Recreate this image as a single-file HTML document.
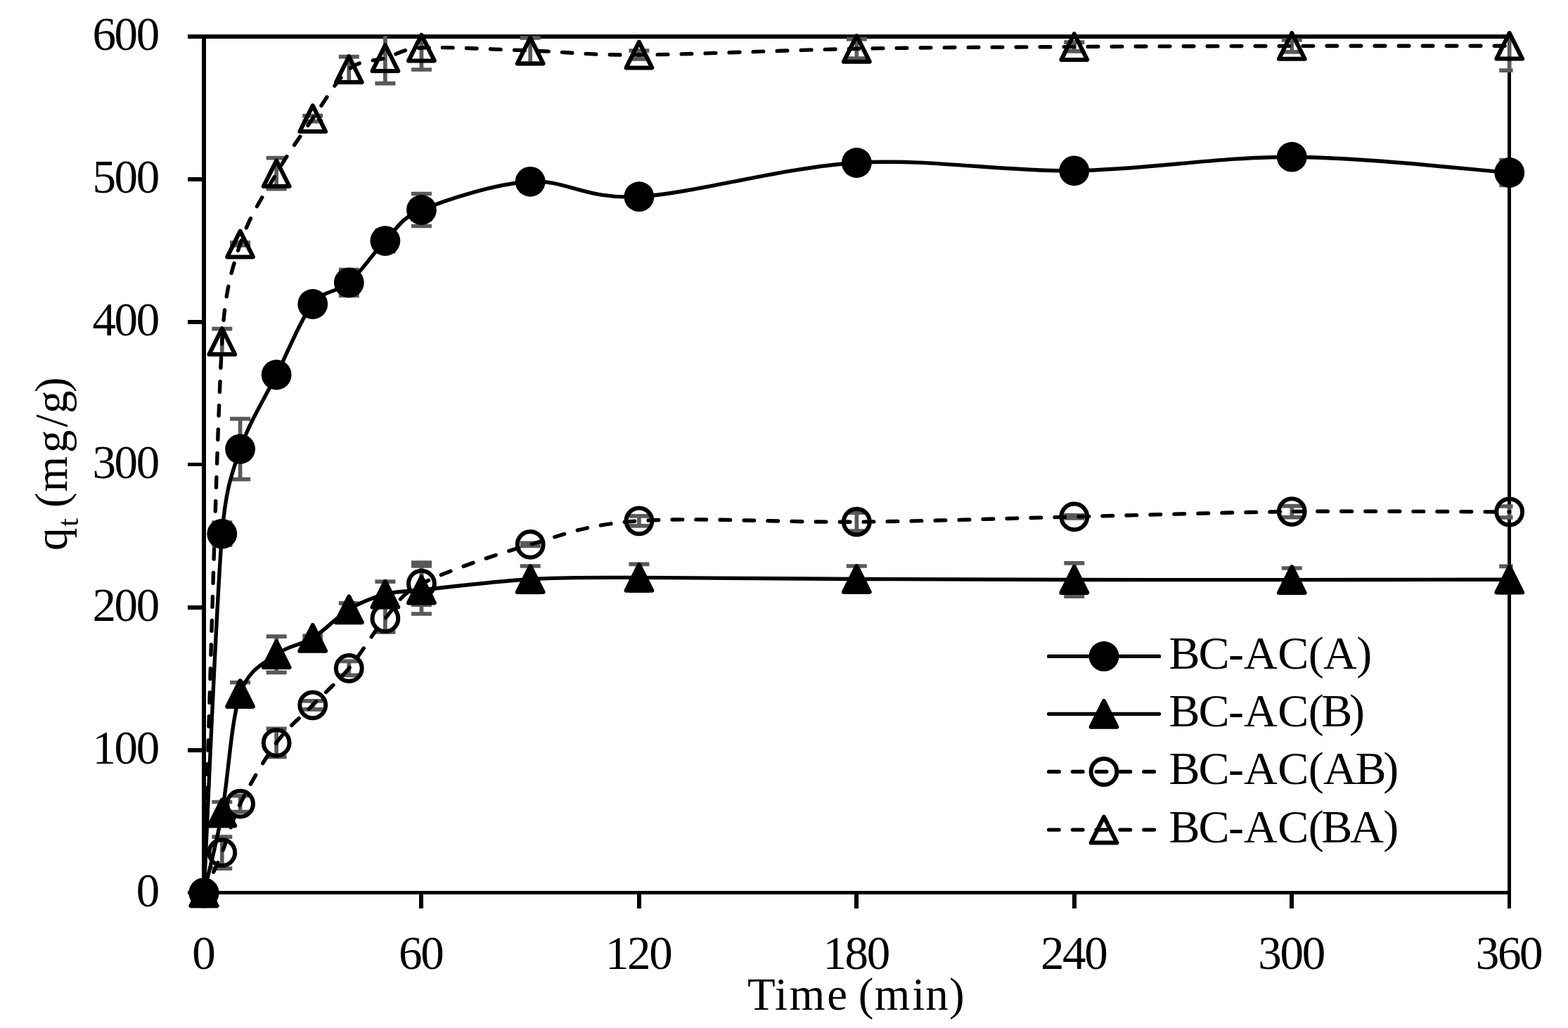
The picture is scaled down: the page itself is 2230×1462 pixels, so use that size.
<!DOCTYPE html>
<html lang="en"><head><meta charset="utf-8"><title>Adsorption kinetics</title>
<style>html,body{margin:0;padding:0;background:#fff}svg{display:block}text{font-family:"Liberation Serif",serif;fill:#000}</style></head><body>
<svg width="2230" height="1462" viewBox="0 0 2230 1462">
<rect width="2230" height="1462" fill="#fff"/>
<defs><clipPath id="eb"><rect x="280" y="51" width="1871.6" height="1300"/></clipPath></defs>
<g stroke="#000" fill="none" stroke-width="6">
<path d="M267 52H2146.5"/>
<path d="M290 49V1272"/>
<path d="M267 1269.5H2146.5" stroke-width="5"/>
<path d="M267 1067H290"/>
<path d="M267 864H290"/>
<path d="M267 660.5H290" stroke-width="5"/>
<path d="M267 458H290"/>
<path d="M267 255H290"/>
<path d="M599 1267V1292"/>
<path d="M909 1267V1292"/>
<path d="M1218 1267V1292"/>
<path d="M1528 1267V1292"/>
<path d="M1837 1267V1292"/>
<path d="M2146.5 49V1292" stroke-width="5"/>
</g>
<g clip-path="url(#eb)" stroke="#595959" stroke-width="5.70" fill="none">
<path d="M315.79 743.20V775.20M301.29 743.20H330.29M301.29 775.20H330.29"/>
<path d="M341.57 595.60V681.60M327.07 595.60H356.07M327.07 681.60H356.07"/>
<path d="M393.15 523.00V543.00M378.65 523.00H407.65M378.65 543.00H407.65"/>
<path d="M444.73 422.50V442.50M430.23 422.50H459.23M430.23 442.50H459.23"/>
<path d="M496.30 383.50V420.50M481.80 383.50H510.80M481.80 420.50H510.80"/>
<path d="M547.88 327.60V357.60M533.38 327.60H562.38M533.38 357.60H562.38"/>
<path d="M599.45 275.50V321.50M584.95 275.50H613.95M584.95 321.50H613.95"/>
<path d="M754.17 248.30V268.30M739.67 248.30H768.67M739.67 268.30H768.67"/>
<path d="M908.90 269.70V289.70M894.40 269.70H923.40M894.40 289.70H923.40"/>
<path d="M1218.35 221.50V241.50M1203.85 221.50H1232.85M1203.85 241.50H1232.85"/>
<path d="M1527.80 232.80V252.80M1513.30 232.80H1542.30M1513.30 252.80H1542.30"/>
<path d="M1837.25 213.20V233.20M1822.75 213.20H1851.75M1822.75 233.20H1851.75"/>
<path d="M2146.70 227.50V263.50M2132.20 227.50H2161.20M2132.20 263.50H2161.20"/>
<path d="M315.79 1140.50V1171.50M301.29 1140.50H330.29M301.29 1171.50H330.29"/>
<path d="M341.57 970.50V1002.50M327.07 970.50H356.07M327.07 1002.50H356.07"/>
<path d="M393.15 905.10V956.30M378.65 905.10H407.65M378.65 956.30H407.65"/>
<path d="M444.73 904.40V910.40M430.23 904.40H459.23M430.23 910.40H459.23"/>
<path d="M496.30 857.80V875.80M481.80 857.80H510.80M481.80 875.80H510.80"/>
<path d="M547.88 827.20V863.20M533.38 827.20H562.38M533.38 863.20H562.38"/>
<path d="M599.45 805.00V873.00M584.95 805.00H613.95M584.95 873.00H613.95"/>
<path d="M754.17 805.00V842.40M739.67 805.00H768.67M739.67 842.40H768.67"/>
<path d="M908.90 802.40V840.40M894.40 802.40H923.40M894.40 840.40H923.40"/>
<path d="M1218.35 805.00V842.00M1203.85 805.00H1232.85M1203.85 842.00H1232.85"/>
<path d="M1527.80 800.80V848.20M1513.30 800.80H1542.30M1513.30 848.20H1542.30"/>
<path d="M1837.25 808.00V841.20M1822.75 808.00H1851.75M1822.75 841.20H1851.75"/>
<path d="M2146.70 805.40V843.00M2132.20 805.40H2161.20M2132.20 843.00H2161.20"/>
<path d="M315.79 1190.10V1235.10M301.29 1190.10H330.29M301.29 1235.10H330.29"/>
<path d="M341.57 1131.70V1154.70M327.07 1131.70H356.07M327.07 1154.70H356.07"/>
<path d="M393.15 1036.40V1076.40M378.65 1036.40H407.65M378.65 1076.40H407.65"/>
<path d="M444.73 996.80V1008.80M430.23 996.80H459.23M430.23 1008.80H459.23"/>
<path d="M496.30 940.40V960.40M481.80 940.40H510.80M481.80 960.40H510.80"/>
<path d="M547.88 860.00V899.00M533.38 860.00H562.38M533.38 899.00H562.38"/>
<path d="M599.45 800.20V860.20M584.95 800.20H613.95M584.95 860.20H613.95"/>
<path d="M754.17 772.40V776.40M739.67 772.40H768.67M739.67 776.40H768.67"/>
<path d="M908.90 733.80V747.80M894.40 733.80H923.40M894.40 747.80H923.40"/>
<path d="M1218.35 729.20V755.20M1203.85 729.20H1232.85M1203.85 755.20H1232.85"/>
<path d="M1527.80 732.90V736.90M1513.30 732.90H1542.30M1513.30 736.90H1542.30"/>
<path d="M1837.25 719.60V735.60M1822.75 719.60H1851.75M1822.75 735.60H1851.75"/>
<path d="M2146.70 720.00V736.00M2132.20 720.00H2161.20M2132.20 736.00H2161.20"/>
<path d="M315.79 467.60V503.60M301.29 467.60H330.29M301.29 503.60H330.29"/>
<path d="M341.57 345.00V349.00M327.07 345.00H356.07M327.07 349.00H356.07"/>
<path d="M393.15 224.70V268.70M378.65 224.70H407.65M378.65 268.70H407.65"/>
<path d="M444.73 164.60V172.60M430.23 164.60H459.23M430.23 172.60H459.23"/>
<path d="M496.30 80.60V116.60M481.80 80.60H510.80M481.80 116.60H510.80"/>
<path d="M547.88 46.60V118.60M533.38 46.60H562.38M533.38 118.60H562.38"/>
<path d="M599.45 37.00V99.00M584.95 37.00H613.95M584.95 99.00H613.95"/>
<path d="M754.17 54.00V90.00M739.67 54.00H768.67M739.67 90.00H768.67"/>
<path d="M908.90 72.00V84.00M894.40 72.00H923.40M894.40 84.00H923.40"/>
<path d="M1218.35 55.60V83.00M1203.85 55.60H1232.85M1203.85 83.00H1232.85"/>
<path d="M1527.80 60.10V72.90M1513.30 60.10H1542.30M1513.30 72.90H1542.30"/>
<path d="M1837.25 57.00V73.80M1822.75 57.00H1851.75M1822.75 73.80H1851.75"/>
<path d="M2146.70 30.20V100.20M2132.20 30.20H2161.20M2132.20 100.20H2161.20"/>
</g>
<g>
<path d="M290.00 1269.80C294.30 1184.70 307.19 864.40 315.79 759.20C320.81 697.74 328.68 676.30 341.57 638.60C354.47 600.90 375.96 567.35 393.15 533.00C410.34 498.65 427.53 454.33 444.73 432.50C461.92 410.67 479.11 416.98 496.30 402.00C513.49 387.02 530.68 359.85 547.88 342.60C565.07 325.35 568.04 311.33 599.45 298.50C633.83 284.45 702.60 261.43 754.17 258.30C805.75 255.17 831.54 284.17 908.90 279.70C986.26 275.23 1115.20 237.65 1218.35 231.50C1321.50 225.35 1424.65 244.18 1527.80 242.80C1630.95 241.42 1734.10 222.75 1837.25 223.20C1940.40 223.65 2095.12 241.78 2146.70 245.50" fill="none" stroke="#000" stroke-width="5.40" stroke-linejoin="round"/>
<circle cx="290.00" cy="1269.80" r="21.40"/>
<circle cx="315.79" cy="759.20" r="21.40"/>
<circle cx="341.57" cy="638.60" r="21.40"/>
<circle cx="393.15" cy="533.00" r="21.40"/>
<circle cx="444.73" cy="432.50" r="21.40"/>
<circle cx="496.30" cy="402.00" r="21.40"/>
<circle cx="547.88" cy="342.60" r="21.40"/>
<circle cx="599.45" cy="298.50" r="21.40"/>
<circle cx="754.17" cy="258.30" r="21.40"/>
<circle cx="908.90" cy="279.70" r="21.40"/>
<circle cx="1218.35" cy="231.50" r="21.40"/>
<circle cx="1527.80" cy="242.80" r="21.40"/>
<circle cx="1837.25" cy="223.20" r="21.40"/>
<circle cx="2146.70" cy="245.50" r="21.40"/>
</g>
<g>
<path d="M290.00 1269.80C294.30 1250.83 307.19 1203.22 315.79 1156.00C324.38 1108.78 328.68 1024.05 341.57 986.50C353.91 950.57 375.96 943.88 393.15 930.70C410.34 917.52 427.53 918.05 444.73 907.40C461.92 896.75 479.11 877.17 496.30 866.80C513.49 856.43 530.68 849.83 547.88 845.20C565.07 840.57 573.62 841.69 599.45 839.00C633.83 835.42 702.60 826.63 754.17 823.70C805.75 820.77 831.54 821.43 908.90 821.40C986.26 821.37 1115.20 822.98 1218.35 823.50C1321.50 824.02 1424.65 824.32 1527.80 824.50C1630.95 824.68 1734.10 824.65 1837.25 824.60C1940.40 824.55 2095.12 824.27 2146.70 824.20" fill="none" stroke="#000" stroke-width="5.40" stroke-linejoin="round"/>
<polygon points="290.00,1251.40 308.40,1288.20 271.60,1288.20" fill="#000" stroke="#000" stroke-width="6.00" stroke-linejoin="round"/>
<polygon points="315.79,1137.60 334.19,1174.40 297.39,1174.40" fill="#000" stroke="#000" stroke-width="6.00" stroke-linejoin="round"/>
<polygon points="341.57,968.10 359.97,1004.90 323.18,1004.90" fill="#000" stroke="#000" stroke-width="6.00" stroke-linejoin="round"/>
<polygon points="393.15,912.30 411.55,949.10 374.75,949.10" fill="#000" stroke="#000" stroke-width="6.00" stroke-linejoin="round"/>
<polygon points="444.73,889.00 463.12,925.80 426.33,925.80" fill="#000" stroke="#000" stroke-width="6.00" stroke-linejoin="round"/>
<polygon points="496.30,848.40 514.70,885.20 477.90,885.20" fill="#000" stroke="#000" stroke-width="6.00" stroke-linejoin="round"/>
<polygon points="547.88,826.80 566.27,863.60 529.48,863.60" fill="#000" stroke="#000" stroke-width="6.00" stroke-linejoin="round"/>
<polygon points="599.45,820.60 617.85,857.40 581.05,857.40" fill="#000" stroke="#000" stroke-width="6.00" stroke-linejoin="round"/>
<polygon points="754.17,805.30 772.57,842.10 735.77,842.10" fill="#000" stroke="#000" stroke-width="6.00" stroke-linejoin="round"/>
<polygon points="908.90,803.00 927.30,839.80 890.50,839.80" fill="#000" stroke="#000" stroke-width="6.00" stroke-linejoin="round"/>
<polygon points="1218.35,805.10 1236.75,841.90 1199.95,841.90" fill="#000" stroke="#000" stroke-width="6.00" stroke-linejoin="round"/>
<polygon points="1527.80,806.10 1546.20,842.90 1509.40,842.90" fill="#000" stroke="#000" stroke-width="6.00" stroke-linejoin="round"/>
<polygon points="1837.25,806.20 1855.65,843.00 1818.85,843.00" fill="#000" stroke="#000" stroke-width="6.00" stroke-linejoin="round"/>
<polygon points="2146.70,805.80 2165.10,842.60 2128.30,842.60" fill="#000" stroke="#000" stroke-width="6.00" stroke-linejoin="round"/>
</g>
<g>
<path d="M290.00 1269.80C294.30 1260.27 307.19 1233.70 315.79 1212.60C324.38 1191.50 328.68 1169.23 341.57 1143.20C354.47 1117.17 375.96 1079.80 393.15 1056.40C410.34 1033.00 427.53 1020.47 444.73 1002.80C461.92 985.13 479.11 970.95 496.30 950.40C513.49 929.85 530.68 899.53 547.88 879.50C565.07 859.47 567.66 846.39 599.45 830.20C633.83 812.68 702.60 789.30 754.17 774.40C805.75 759.50 831.54 746.17 908.90 740.80C986.26 735.43 1115.20 743.18 1218.35 742.20C1321.50 741.22 1424.65 737.33 1527.80 734.90C1630.95 732.47 1734.10 728.75 1837.25 727.60C1940.40 726.45 2095.12 727.93 2146.70 728.00" fill="none" stroke="#000" stroke-width="5.40" stroke-dasharray="14.6 19.4" stroke-dashoffset="1.3" stroke-linecap="round" stroke-linejoin="round"/>
<circle cx="290.00" cy="1269.80" r="18.40" fill="none" stroke="#000" stroke-width="6.00"/>
<circle cx="315.79" cy="1212.60" r="18.40" fill="none" stroke="#000" stroke-width="6.00"/>
<circle cx="341.57" cy="1143.20" r="18.40" fill="none" stroke="#000" stroke-width="6.00"/>
<circle cx="393.15" cy="1056.40" r="18.40" fill="none" stroke="#000" stroke-width="6.00"/>
<circle cx="444.73" cy="1002.80" r="18.40" fill="none" stroke="#000" stroke-width="6.00"/>
<circle cx="496.30" cy="950.40" r="18.40" fill="none" stroke="#000" stroke-width="6.00"/>
<circle cx="547.88" cy="879.50" r="18.40" fill="none" stroke="#000" stroke-width="6.00"/>
<circle cx="599.45" cy="830.20" r="18.40" fill="none" stroke="#000" stroke-width="6.00"/>
<circle cx="754.17" cy="774.40" r="18.40" fill="none" stroke="#000" stroke-width="6.00"/>
<circle cx="908.90" cy="740.80" r="18.40" fill="none" stroke="#000" stroke-width="6.00"/>
<circle cx="1218.35" cy="742.20" r="18.40" fill="none" stroke="#000" stroke-width="6.00"/>
<circle cx="1527.80" cy="734.90" r="18.40" fill="none" stroke="#000" stroke-width="6.00"/>
<circle cx="1837.25" cy="727.60" r="18.40" fill="none" stroke="#000" stroke-width="6.00"/>
<circle cx="2146.70" cy="728.00" r="18.40" fill="none" stroke="#000" stroke-width="6.00"/>
</g>
<g>
<path d="M290.00 1269.80C294.30 1139.10 307.19 639.40 315.79 485.60C319.72 415.22 328.68 386.82 341.57 347.00C354.47 307.18 375.96 276.43 393.15 246.70C410.34 216.97 427.53 193.28 444.73 168.60C461.92 143.92 479.11 112.93 496.30 98.60C513.49 84.27 530.68 87.70 547.88 82.60C565.07 77.50 572.68 69.38 599.45 68.00C633.83 66.23 702.60 70.33 754.17 72.00C805.75 73.67 831.54 78.45 908.90 78.00C986.26 77.55 1115.20 71.22 1218.35 69.30C1321.50 67.38 1424.65 67.15 1527.80 66.50C1630.95 65.85 1734.10 65.62 1837.25 65.40C1940.40 65.18 2095.12 65.23 2146.70 65.20" fill="none" stroke="#000" stroke-width="5.40" stroke-dasharray="14.6 19.4" stroke-dashoffset="1.2" stroke-linecap="round" stroke-linejoin="round"/>
<polygon points="290.00,1251.40 308.40,1288.20 271.60,1288.20" fill="none" stroke="#000" stroke-width="6.00" stroke-linejoin="round"/>
<polygon points="315.79,467.20 334.19,504.00 297.39,504.00" fill="none" stroke="#000" stroke-width="6.00" stroke-linejoin="round"/>
<polygon points="341.57,328.60 359.97,365.40 323.18,365.40" fill="none" stroke="#000" stroke-width="6.00" stroke-linejoin="round"/>
<polygon points="393.15,228.30 411.55,265.10 374.75,265.10" fill="none" stroke="#000" stroke-width="6.00" stroke-linejoin="round"/>
<polygon points="444.73,150.20 463.12,187.00 426.33,187.00" fill="none" stroke="#000" stroke-width="6.00" stroke-linejoin="round"/>
<polygon points="496.30,80.20 514.70,117.00 477.90,117.00" fill="none" stroke="#000" stroke-width="6.00" stroke-linejoin="round"/>
<polygon points="547.88,64.20 566.27,101.00 529.48,101.00" fill="none" stroke="#000" stroke-width="6.00" stroke-linejoin="round"/>
<polygon points="599.45,49.60 617.85,86.40 581.05,86.40" fill="none" stroke="#000" stroke-width="6.00" stroke-linejoin="round"/>
<polygon points="754.17,53.60 772.57,90.40 735.77,90.40" fill="none" stroke="#000" stroke-width="6.00" stroke-linejoin="round"/>
<polygon points="908.90,59.60 927.30,96.40 890.50,96.40" fill="none" stroke="#000" stroke-width="6.00" stroke-linejoin="round"/>
<polygon points="1218.35,50.90 1236.75,87.70 1199.95,87.70" fill="none" stroke="#000" stroke-width="6.00" stroke-linejoin="round"/>
<polygon points="1527.80,48.10 1546.20,84.90 1509.40,84.90" fill="none" stroke="#000" stroke-width="6.00" stroke-linejoin="round"/>
<polygon points="1837.25,47.00 1855.65,83.80 1818.85,83.80" fill="none" stroke="#000" stroke-width="6.00" stroke-linejoin="round"/>
<polygon points="2146.70,46.80 2165.10,83.60 2128.30,83.60" fill="none" stroke="#000" stroke-width="6.00" stroke-linejoin="round"/>
</g>
<g>
<path d="M1491.60 933.40H1648.50" stroke="#000" stroke-width="5.40" stroke-linecap="round"/>
<circle cx="1570.00" cy="933.40" r="21.40"/>
<text x="1662.5 1704.4 1747.1 1769.0 1817.3 1860.8 1882.1 1929.2" y="951.3" font-size="66.0">BC-AC(A)</text>
<path d="M1491.60 1015.40H1648.50" stroke="#000" stroke-width="5.40" stroke-linecap="round"/>
<polygon points="1570.00,997.00 1588.40,1033.80 1551.60,1033.80" fill="#000" stroke="#000" stroke-width="6.00" stroke-linejoin="round"/>
<text x="1662.5 1704.4 1747.1 1769.0 1817.3 1860.8 1879.3 1918.9" y="1033.3" font-size="66.0">BC-AC(B)</text>
<path d="M1491.60 1097.50H1648.50" stroke="#000" stroke-width="5.40" stroke-linecap="round" stroke-dasharray="14.6 19.2"/>
<circle cx="1570.00" cy="1097.50" r="18.40" fill="none" stroke="#000" stroke-width="6.00"/>
<text x="1662.5 1704.4 1747.1 1769.0 1817.3 1860.8 1882.1 1927.5 1967.3" y="1115.4" font-size="66.0">BC-AC(AB)</text>
<path d="M1491.60 1180.10H1648.50" stroke="#000" stroke-width="5.40" stroke-linecap="round" stroke-dasharray="14.6 19.2"/>
<polygon points="1570.00,1161.70 1588.40,1198.50 1551.60,1198.50" fill="none" stroke="#000" stroke-width="6.00" stroke-linejoin="round"/>
<text x="1662.5 1704.4 1747.1 1769.0 1817.3 1860.8 1879.3 1920.3 1967.3" y="1198.0" font-size="66.0">BC-AC(BA)</text>
</g>
<g>
<text x="193.7" y="1288.7" font-size="67.0">0</text>
<text x="131.4 162.5 193.7" y="1085.8" font-size="67.0">100</text>
<text x="131.4 162.5 193.7" y="882.8" font-size="67.0">200</text>
<text x="131.4 162.5 193.7" y="679.9" font-size="67.0">300</text>
<text x="131.4 162.5 193.7" y="476.9" font-size="67.0">400</text>
<text x="131.4 162.5 193.7" y="274.0" font-size="67.0">500</text>
<text x="131.4 162.5 193.7" y="71.0" font-size="67.0">600</text>
<text x="273.2" y="1378.2" font-size="67.0">0</text>
<text x="567.1 598.3" y="1378.2" font-size="67.0">60</text>
<text x="861.0 892.1 923.3" y="1378.2" font-size="67.0">120</text>
<text x="1170.4 1201.6 1232.8" y="1378.2" font-size="67.0">180</text>
<text x="1479.9 1511.0 1542.2" y="1378.2" font-size="67.0">240</text>
<text x="1789.3 1820.5 1851.7" y="1378.2" font-size="67.0">300</text>
<text x="2098.8 2129.9 2161.1" y="1378.2" font-size="67.0">360</text>
</g>
<text x="1063.1 1101.9 1122.7 1176.3 1195.8 1220.8 1243.8 1297.2 1316.3 1350.1" y="1435.8" font-size="65.0">Time (min)</text>
<text transform="translate(95.2 783.2) rotate(-90)" font-size="65"><tspan x="0.3" y="0">q</tspan><tspan x="34.1" y="15.8" font-size="43">t</tspan><tspan x="19.5 61.3 83.6 139.1 175.8 195.1 225.2" y="0"> (mg/g)</tspan></text>
</svg></body></html>
